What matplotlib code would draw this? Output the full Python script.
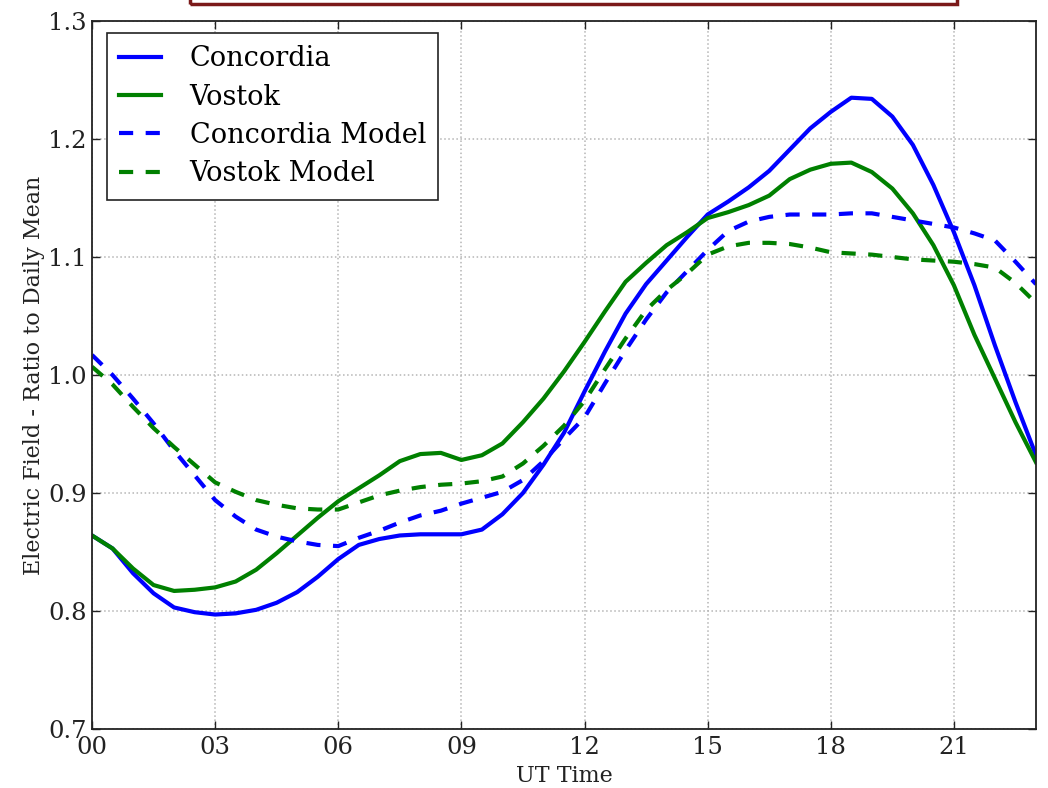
import numpy as np
import matplotlib
matplotlib.use("Agg")
import matplotlib.pyplot as plt
from matplotlib.patches import Rectangle

# Half-hourly UT time, 00:00 .. 23:00
hours = np.arange(0, 23.5, 0.5)

# Ratio of electric field to its daily mean
concordia = [0.864, 0.853, 0.832, 0.815, 0.803, 0.799, 0.797, 0.798, 0.801, 0.807,
             0.816, 0.829, 0.844, 0.856, 0.861, 0.864, 0.865, 0.865, 0.865, 0.869,
             0.882, 0.900, 0.924, 0.951, 0.986, 1.020, 1.052, 1.077, 1.097, 1.117,
             1.136, 1.147, 1.159, 1.173, 1.191, 1.209, 1.223, 1.235, 1.234, 1.219,
             1.195, 1.161, 1.121, 1.076, 1.025, 0.977, 0.932]
vostok = [0.864, 0.853, 0.836, 0.822, 0.817, 0.818, 0.820, 0.825, 0.835, 0.849,
          0.864, 0.879, 0.893, 0.904, 0.915, 0.927, 0.933, 0.934, 0.928, 0.932,
          0.942, 0.960, 0.980, 1.003, 1.028, 1.054, 1.079, 1.095, 1.110, 1.121,
          1.133, 1.138, 1.144, 1.152, 1.166, 1.174, 1.179, 1.180, 1.172, 1.158,
          1.137, 1.110, 1.076, 1.034, 0.997, 0.960, 0.926]
concordia_model = [1.017, 1.000, 0.980, 0.959, 0.936, 0.915, 0.894, 0.880, 0.869, 0.863,
                   0.859, 0.856, 0.855, 0.862, 0.868, 0.875, 0.881, 0.885, 0.891, 0.896,
                   0.901, 0.911, 0.927, 0.946, 0.964, 0.993, 1.021, 1.047, 1.070, 1.088,
                   1.106, 1.122, 1.130, 1.134, 1.136, 1.136, 1.136, 1.137, 1.137, 1.134,
                   1.131, 1.128, 1.125, 1.120, 1.114, 1.096, 1.077]
vostok_model = [1.007, 0.992, 0.973, 0.955, 0.939, 0.924, 0.909, 0.901, 0.894, 0.890,
                0.887, 0.886, 0.886, 0.892, 0.898, 0.902, 0.905, 0.907, 0.908, 0.910,
                0.914, 0.925, 0.940, 0.957, 0.978, 1.005, 1.031, 1.055, 1.072, 1.086,
                1.102, 1.109, 1.112, 1.112, 1.111, 1.108, 1.104, 1.103, 1.102, 1.100,
                1.098, 1.097, 1.096, 1.094, 1.091, 1.078, 1.061]

xticks = [0, 3, 6, 9, 12, 15, 18, 21]
xtick_labels = ['00', '03', '06', '09', '12', '15', '18', '21']

plt.rcParams['font.family'] = ['DejaVu Serif']
plt.rcParams['xtick.direction'] = 'in'
plt.rcParams['ytick.direction'] = 'in'

fig = plt.figure(figsize=(10.48, 7.88), dpi=100)
ax = fig.add_axes([92 / 1048, 1 - 729 / 788, 944 / 1048, 708 / 788])

dash = (0, (3.4, 3.0))
ax.plot(hours, concordia, color='#0000ff', lw=3, label='Concordia')
ax.plot(hours, vostok, color='#008000', lw=3, label='Vostok')
ax.plot(hours, concordia_model, color='#0000ff', lw=3, linestyle=dash, label='Concordia Model')
ax.plot(hours, vostok_model, color='#008000', lw=3, linestyle=dash, label='Vostok Model')

ax.set_xlim(0, 23)
ax.set_ylim(0.7, 1.3)
ax.set_xticks(xticks)
ax.set_xticklabels(xtick_labels)
ax.set_yticks([0.7, 0.8, 0.9, 1.0, 1.1, 1.2, 1.3])
ax.tick_params(labelsize=17.5, length=6, width=1, top=True, right=True, pad=4, colors='#222222')
ax.tick_params(axis='x', pad=5)
ax.grid(True, color='#b5b5b5', linestyle=':', linewidth=1.1)
for sp in ax.spines.values():
    sp.set_linewidth(1.3)
    sp.set_color('#222222')

ax.set_xlabel('UT Time', fontsize=16, labelpad=4, color='#222222')
ax.set_ylabel('Electric Field - Ratio to Daily Mean', fontsize=16, labelpad=2, color='#222222')

leg = ax.legend(loc='upper left', bbox_to_anchor=(15 / 944, 1 - 12 / 708),
                fontsize=19.5, fancybox=False, framealpha=1,
                edgecolor='#222222', handlelength=1.55, handletextpad=1.05,
                borderaxespad=0, labelspacing=0.42, borderpad=0.45)
leg.get_frame().set_linewidth(1.2)

# partly visible title box at the top of the frame
fig.add_artist(Rectangle((190 / 1048, 1 - 4 / 788), (957 - 190) / 1048, 0.1,
                         transform=fig.transFigure, fill=False,
                         edgecolor='#7b1a1a', lw=2.5, clip_on=False))

fig.savefig('out.png', dpi=100)
